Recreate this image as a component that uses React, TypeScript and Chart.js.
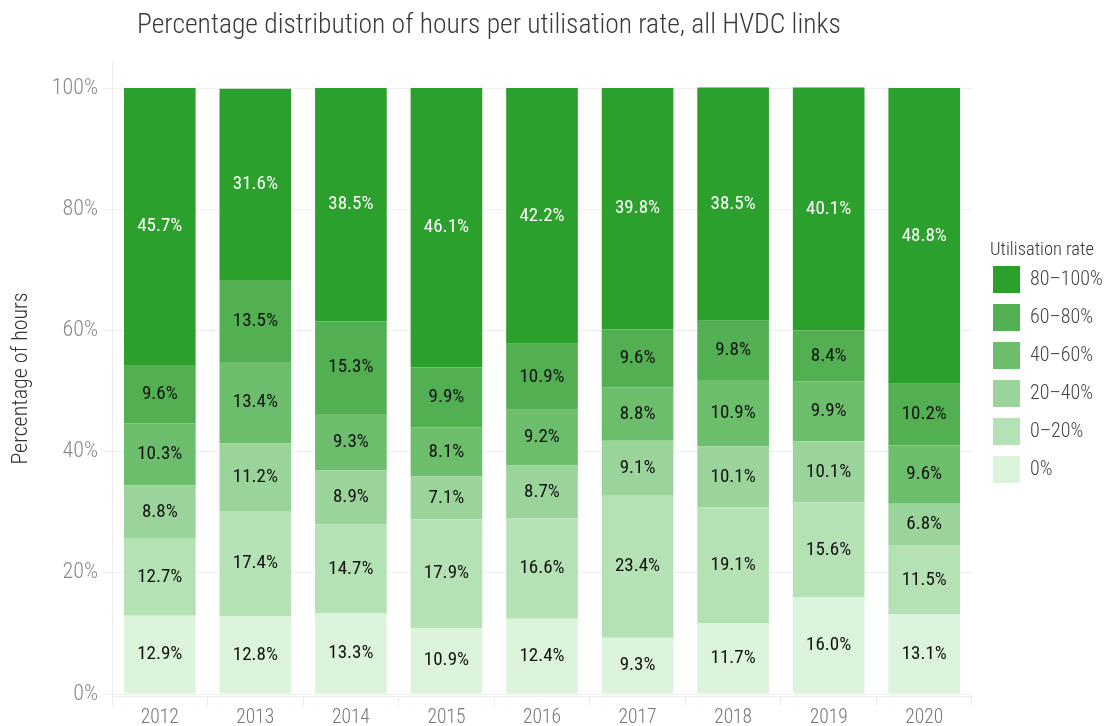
import React, { useEffect, useRef } from "react";
import { Chart, registerables } from "chart.js";

Chart.register(...registerables);

const years = ["2012", "2013", "2014", "2015", "2016", "2017", "2018", "2019", "2020"];
const seriesLabels = ["0%", "0–20%", "20–40%", "40–60%", "60–80%", "80–100%"];
const s0 = [12.9, 12.8, 13.3, 10.9, 12.4, 9.3, 11.7, 16.0, 13.1];
const s0to20 = [12.7, 17.4, 14.7, 17.9, 16.6, 23.4, 19.1, 15.6, 11.5];
const s20to40 = [8.8, 11.2, 8.9, 7.1, 8.7, 9.1, 10.1, 10.1, 6.8];
const s40to60 = [10.3, 13.4, 9.3, 8.1, 9.2, 8.8, 10.9, 9.9, 9.6];
const s60to80 = [9.6, 13.5, 15.3, 9.9, 10.9, 9.6, 9.8, 8.4, 10.2];
const s80to100 = [45.7, 31.6, 38.5, 46.1, 42.2, 39.8, 38.5, 40.1, 48.8];
const colors = ["#dcf4dc", "#b5e2b5", "#9ad49a", "#6cbe6c", "#52af52", "#2ca02c"];
const yTicks = [0, 20, 40, 60, 80, 100];

const FONT = "'Liberation Sans Narrow', 'Roboto Condensed', 'Arial Narrow', 'Liberation Sans', sans-serif";
const TITLE = "Percentage distribution of hours per utilisation rate, all HVDC links";
const LEGEND_TITLE = "Utilisation rate";

const labelPlugin = {
  id: "barLabels",
  afterDatasetsDraw(chart: any) {
    const ctx = chart.ctx;
    ctx.save();
    ctx.font = `400 19px ${FONT}`;
    ctx.textAlign = "center";
    ctx.textBaseline = "middle";
    chart.data.datasets.forEach((ds: any, di: number) => {
      const meta = chart.getDatasetMeta(di);
      meta.data.forEach((bar: any, i: number) => {
        const v = ds.data[i];
        const y = (bar.y + bar.base) / 2;
        ctx.fillStyle = di === chart.data.datasets.length - 1 ? "#ffffff" : "#111111";
        ctx.fillText(v.toFixed(1) + "%", bar.x, y);
      });
    });
    ctx.restore();
  },
};

const titlePlugin = {
  id: "topTitle",
  beforeDraw(chart: any) {
    const lg = chart.legend;
    if (lg) {
      const dx = chart.chartArea.right + 10 - lg.left;
      lg.left += dx;
      lg.right += dx;
    }
  },
  afterDraw(chart: any) {
    const ctx = chart.ctx;
    ctx.save();
    ctx.font = `300 27.6px ${FONT}`;
    ctx.fillStyle = "#3a3a3a";
    ctx.textAlign = "left";
    ctx.textBaseline = "alphabetic";
    ctx.fillText(TITLE, 137, 33);
    const lg = chart.legend;
    if (lg) {
      ctx.font = `300 18.5px ${FONT}`;
      ctx.fillStyle = "#333333";
      ctx.textBaseline = "middle";
      ctx.fillText(LEGEND_TITLE, chart.chartArea.right + 18, 250);
    }
    ctx.restore();
  },
};

export default function App() {
  const ref = useRef<HTMLCanvasElement>(null);
  useEffect(() => {
    document.body.style.margin = "0";
    document.body.style.overflow = "hidden";
    const series = [s0, s0to20, s20to40, s40to60, s60to80, s80to100];
    const chart = new Chart(ref.current as HTMLCanvasElement, {
      type: "bar",
      data: {
        labels: years,
        datasets: series.map((d, i) => ({
          label: seriesLabels[i],
          data: d,
          backgroundColor: colors[i],
          borderWidth: 0,
          barPercentage: 0.75,
          categoryPercentage: 1,
        })),
      },
      options: {
        animation: false,
        responsive: false,
        maintainAspectRatio: false,
        layout: { padding: { top: 61, right: 6, bottom: 0, left: 0 } },
        plugins: {
          tooltip: { enabled: false },
          title: { display: false },
          legend: {
            position: "right",
            reverse: true,
            align: "start",
            title: {
              display: true,
              text: "",
              color: "#333333",
              font: { family: FONT, size: 18, weight: 300 },
              position: "start",
              padding: { top: 180, bottom: -7.6 },
            },
            labels: {
              boxWidth: 27,
              boxHeight: 27,
              padding: 11,
              color: "#444444",
              font: { family: FONT, size: 20, weight: 300 },
            },
          },
        },
        scales: {
          x: {
            stacked: true,
            afterFit(scale: any) {
              scale.height = 30;
            },
            grid: {
              display: true,
              offset: true,
              drawOnChartArea: false,
              drawTicks: true,
              tickLength: 10,
              color: "#ebebeb",
            },
            border: { display: true, color: "#ebebeb" },
            ticks: { color: "#777777", font: { family: FONT, size: 19.5, weight: 300 }, padding: 0 },
          },
          y: {
            stacked: true,
            min: -0.33,
            max: 104.46,
            afterBuildTicks(scale: any) {
              scale.ticks = yTicks.map((v) => ({ value: v }));
            },
            afterFit(scale: any) {
              scale.width = 112;
            },
            grid: { color: "#efefef", tickLength: 10, drawTicks: true },
            border: { display: true, color: "#ebebeb" },
            ticks: {
              color: "#888888",
              font: { family: FONT, size: 22, weight: 300 },
              padding: 4,
              callback: (v: any) => v + "%",
            },
            title: {
              display: true,
              text: "Percentage of hours",
              color: "#333333",
              font: { family: FONT, size: 22, weight: 300 },
              padding: { top: 8, bottom: 0 },
            },
          },
        },
      },
      plugins: [labelPlugin, titlePlugin],
    } as any);
    const diff = chart.chartArea.right - 972;
    if (Math.abs(diff) > 0.5) {
      (chart.options as any).layout.padding.right += diff;
      chart.update();
    }
    return () => chart.destroy();
  }, []);
  return (
    <div style={{ width: 1106, height: 726 }}>
      <canvas ref={ref} width={1106} height={726} style={{ display: "block" }} />
    </div>
  );
}
